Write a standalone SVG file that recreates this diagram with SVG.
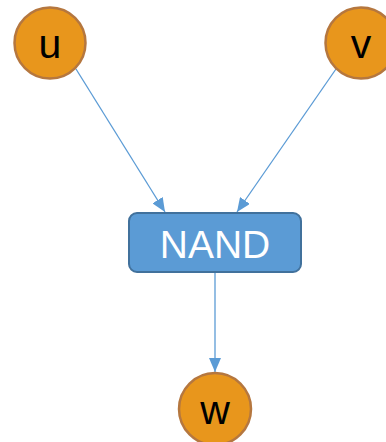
<svg xmlns="http://www.w3.org/2000/svg" width="386" height="442" viewBox="0 0 386 442">
<style>
.c{fill:#E8961C;stroke:#B5773F;stroke-width:2.5}
.t{font-family:"Liberation Sans",Arial,sans-serif;fill:#000;text-anchor:middle;font-size:41px}
.e{stroke:#5B9BD5;stroke-width:1.3;fill:none}
</style>
<defs>
<marker id="b" viewBox="0 0 14 12" refX="14" refY="6" markerWidth="14" markerHeight="12" markerUnits="userSpaceOnUse" orient="auto">
<path d="M0,0 L14,6 L0,12 Z" fill="#5B9BD5"/>
</marker>
</defs>
<g id="connectors">
<line class="e" x1="76" y1="69" x2="165" y2="212" marker-end="url(#b)"/>
<line class="e" x1="336" y1="69" x2="237" y2="212" marker-end="url(#b)"/>
<line class="e" x1="215" y1="273" x2="215" y2="372" marker-end="url(#b)"/>
</g>
<g id="u">
<circle class="c" cx="50" cy="43" r="35.5"/>
<text class="t" x="50" y="58">u</text>
</g>
<g id="v">
<circle class="c" cx="361" cy="43" r="35.5"/>
<text class="t" x="361" y="58">v</text>
</g>
<g id="nand">
<rect x="129" y="213" width="172" height="59" rx="8" fill="#5B9BD5" stroke="#41719C" stroke-width="2"/>
<text x="215" y="258" font-family="'Liberation Sans',Arial,sans-serif" font-size="39" fill="#fff" text-anchor="middle">NAND</text>
</g>
<g id="w">
<circle class="c" cx="215" cy="409" r="36"/>
<text class="t" x="215" y="424">w</text>
</g>
</svg>
